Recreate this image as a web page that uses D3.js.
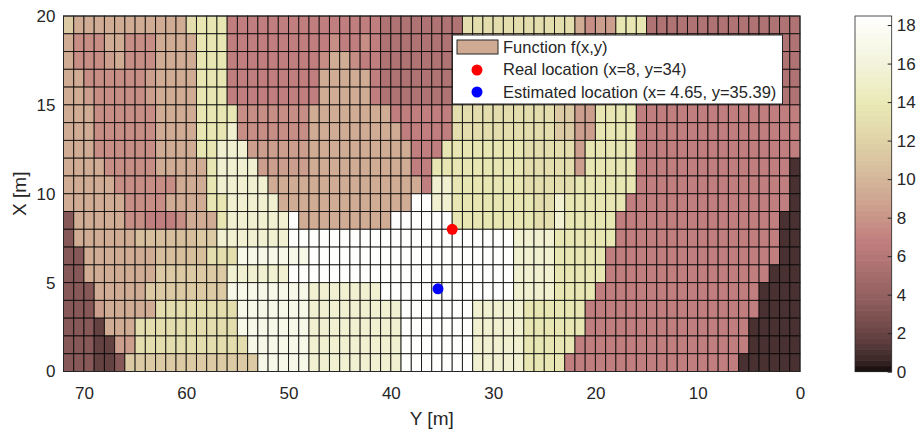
<!DOCTYPE html>
<html lang="en">
<head>
  <meta charset="utf-8">
  <title>D3: f(x,y) localisation map</title>
  <script src="https://cdn.jsdelivr.net/npm/d3@7"></script>
  <style>
    body { margin: 0; background: #fff; }
    text { font-family: "Liberation Sans", Arial, Helvetica, sans-serif; fill: #262626; }
  </style>
</head>
<body>
<script>

// axis ticks
var yTicks = [70, 60, 50, 40, 30, 20, 10, 0];
var xTicks = [0, 5, 10, 15, 20];
var cbarTicks = [0, 2, 4, 6, 8, 10, 12, 14, 16, 18];

var levelKeys   = "0123456789abcde";
var levelValues = [2.0, 1.1, 3.2, 5.6, 6.7, 7.6, 8.4, 9.3, 10.5, 11.5, 12.7, 13.7, 15.3, 16.8, 18.3];

// f(x,y) as runs "level:count", one string per row, top row (X 19-20) first,
// runs go left (Y 72) to right (Y 0), 1 m per cell
var gridRows = [
  "9:1 7:11 a:1 b:3 4:15 3:8 a:11 7:1 5:1 6:2 b:3 3:15",
  "7:1 5:3 7:2 5:3 7:4 b:3 4:8 4:2 5:1 4:2 5:1 4:1 3:8 a:11 6:4 b:3 3:15",
  "7:1 5:3 6:1 7:1 5:3 7:4 b:3 4:8 4:1 5:1 7:2 5:1 4:2 3:8 a:11 6:4 b:3 3:15",
  "7:2 5:6 6:1 7:4 b:3 4:9 7:5 4:1 3:8 a:11 6:4 b:3 3:15",
  "7:2 6:1 5:5 6:1 7:4 b:3 4:9 7:5 4:1 3:8 a:11 6:4 b:3 3:15",
  "7:3 5:6 7:4 b:4 5:7 7:8 4:6 a:10 9:2 6:2 b:4 4:16",
  "7:3 5:6 7:4 b:3 c:1 5:7 7:9 4:5 a:10 9:2 6:2 b:4 4:16",
  "7:3 5:6 7:4 b:2 c:3 6:6 7:10 4:3 b:8 a:5 6:1 b:5 4:16",
  "7:4 5:5 7:5 b:1 c:4 6:5 7:10 4:2 b:9 a:5 6:1 b:5 4:15 1:1",
  "7:5 5:6 7:3 b:1 c:5 7:15 4:1 c:2 b:7 a:5 b:6 4:15 1:1",
  "7:6 5:4 7:4 b:2 c:5 7:13 e:2 c:2 b:8 a:2 c:1 b:6 4:16 1:1",
  "2:1 7:5 5:2 4:3 5:1 7:3 b:1 c:6 e:1 7:9 e:6 b:8 a:2 c:1 b:5 4:16 1:2",
  "2:1 7:6 8:6 9:2 c:7 e:22 c:4 b:6 4:16 1:2",
  "2:2 7:7 8:5 a:3 d:7 e:20 c:4 b:5 4:17 1:2",
  "2:2 7:7 9:7 c:6 e:22 c:4 b:5 4:16 1:3",
  "2:3 7:5 9:8 d:8 c:7 e:13 c:4 b:4 4:16 1:4",
  "2:3 6:1 7:5 a:8 d:7 c:9 e:7 c:5 b:6 4:17 1:4",
  "2:3 0:1 7:3 a:10 d:7 c:9 e:7 c:5 b:6 4:16 1:5",
  "2:3 0:2 6:2 a:11 d:6 c:9 e:7 c:5 b:5 4:17 1:5",
  "2:3 0:2 2:1 9:13 d:5 c:9 e:7 c:5 b:4 4:17 1:6"
];

// markers
var realPoint = { x: 8, y: 34 };
var estPoint  = { x: 4.65, y: 35.39 };
var legendLabels = ["Function f(x,y)", "Real location (x=8, y=34)", "Estimated location (x= 4.65, y=35.39)"];

var width = 918, height = 430;
var plotLeft = 63.5, plotRight = 800, plotTop = 16, plotBottom = 371.5;
var cmin = 0, cmax = 18.47;

// MATLAB style "pink" colormap: sqrt((2*gray + hot)/3)
function pinkMap(t) {
  t = Math.max(0, Math.min(1, t));
  var hr = Math.min(1, t / 0.375),
      hg = Math.max(0, Math.min(1, (t - 0.375) / 0.375)),
      hb = Math.max(0, Math.min(1, (t - 0.75) / 0.25));
  return d3.rgb(255 * Math.sqrt((2 * t + hr) / 3),
                255 * Math.sqrt((2 * t + hg) / 3),
                255 * Math.sqrt((2 * t + hb) / 3)).formatHex();
}
var nColors = 64;
var color = d3.scaleQuantize()
    .domain([cmin, cmax])
    .range(d3.range(nColors).map(function(i) { return pinkMap((i + 0.5) / nColors); }));

var x = d3.scaleLinear().domain([72, 0]).range([plotLeft, plotRight]);
var y = d3.scaleLinear().domain([0, 20]).range([plotBottom, plotTop]);

var svg = d3.select("body").append("svg")
    .attr("width", width)
    .attr("height", height);

// unpack the runs into cells
var cells = [];
gridRows.forEach(function(row, r) {
  var c = 0;
  row.split(" ").forEach(function(run) {
    var p = run.split(":"), v = levelValues[levelKeys.indexOf(p[0])];
    for (var k = 0; k < +p[1]; k++) {
      if (c < 72) cells.push({ r: r, c: c, v: v });
      c++;
    }
  });
});

svg.append("g").selectAll("rect")
    .data(cells)
    .enter().append("rect")
    .attr("x", function(d) { return x(72 - d.c); })
    .attr("y", function(d) { return y(20 - d.r); })
    .attr("width", function(d) { return x(71 - d.c) - x(72 - d.c); })
    .attr("height", function(d) { return y(19 - d.r) - y(20 - d.r); })
    .attr("fill", function(d) { return color(d.v); })
    .attr("stroke", "#000")
    .attr("stroke-opacity", 0.8)
    .attr("stroke-width", 1);

// axes
var xAxis = svg.append("g")
    .attr("transform", "translate(0," + plotBottom + ")")
    .call(d3.axisBottom(x).tickValues(yTicks).tickSize(0).tickPadding(15));
var yAxis = svg.append("g")
    .attr("transform", "translate(" + plotLeft + ",0)")
    .call(d3.axisLeft(y).tickValues(xTicks).tickSize(0).tickPadding(8));
[xAxis, yAxis].forEach(function(a) {
  a.attr("font-family", null);
  a.select(".domain").remove();
  a.selectAll("text").attr("font-size", 17).attr("fill", "#262626");
});

svg.append("rect")
    .attr("x", plotLeft).attr("y", plotTop)
    .attr("width", plotRight - plotLeft).attr("height", plotBottom - plotTop)
    .attr("fill", "none").attr("stroke", "#262626").attr("stroke-width", 1);

svg.append("text")
    .attr("x", (plotLeft + plotRight) / 2).attr("y", 425)
    .attr("text-anchor", "middle").attr("font-size", 19)
    .text("Y [m]");
svg.append("text")
    .attr("transform", "translate(26," + (plotTop + plotBottom) / 2 + ") rotate(-90)")
    .attr("text-anchor", "middle").attr("font-size", 19)
    .text("X [m]");

// points
svg.append("circle")
    .attr("cx", x(realPoint.y)).attr("cy", y(realPoint.x)).attr("r", 5.5)
    .attr("fill", "#ff0000");
svg.append("circle")
    .attr("cx", x(estPoint.y)).attr("cy", y(estPoint.x)).attr("r", 5.5)
    .attr("fill", "#0000ff");

// legend
var lg = svg.append("g");
lg.append("rect")
    .attr("x", 452.5).attr("y", 35)
    .attr("width", 330).attr("height", 69)
    .attr("fill", "#fff").attr("stroke", "#262626").attr("stroke-width", 1);
lg.append("rect")
    .attr("x", 457).attr("y", 40)
    .attr("width", 41).attr("height", 14)
    .attr("fill", pinkMap(0.5)).attr("stroke", "#262626").attr("stroke-width", 1);
lg.append("circle").attr("cx", 477).attr("cy", 70).attr("r", 5.5).attr("fill", "#ff0000");
lg.append("circle").attr("cx", 477).attr("cy", 92).attr("r", 5.5).attr("fill", "#0000ff");
lg.selectAll("text.lab")
    .data(legendLabels)
    .enter().append("text")
    .attr("class", "lab")
    .attr("x", 503)
    .attr("y", function(d, i) { return 47 + i * 22.5; })
    .attr("dy", "0.35em")
    .attr("font-size", 16.5)
    .text(function(d) { return d; });

// colorbar
var cbX = 855, cbW = 36.7, cbBottom = 371.7;
var cy = d3.scaleLinear().domain([cmin, cmax]).range([cbBottom, plotTop]);
var step = (cmax - cmin) / nColors;
var steps = d3.range(nColors).map(function(i) { return cmin + step * i; });
svg.append("g").selectAll("rect")
    .data(steps)
    .enter().append("rect")
    .attr("x", cbX)
    .attr("y", function(d) { return cy(d + step) - 0.3; })
    .attr("width", cbW)
    .attr("height", function(d) { return cy(d) - cy(d + step) + 0.6; })
    .attr("fill", function(d) { return color(d + step / 2); });
svg.append("rect")
    .attr("x", cbX).attr("y", plotTop).attr("width", cbW).attr("height", cbBottom - plotTop)
    .attr("fill", "none").attr("stroke", "#262626").attr("stroke-width", 0.8);
var cbAxis = svg.append("g")
    .attr("transform", "translate(" + (cbX + cbW) + ",0)")
    .call(d3.axisRight(cy).tickValues(cbarTicks).tickSizeInner(-4).tickSizeOuter(0).tickPadding(5));
cbAxis.attr("font-family", null);
cbAxis.select(".domain").remove();
cbAxis.selectAll("line").attr("stroke", "#262626");
cbAxis.selectAll("text").attr("font-size", 17).attr("fill", "#262626");

</script>
</body>
</html>
